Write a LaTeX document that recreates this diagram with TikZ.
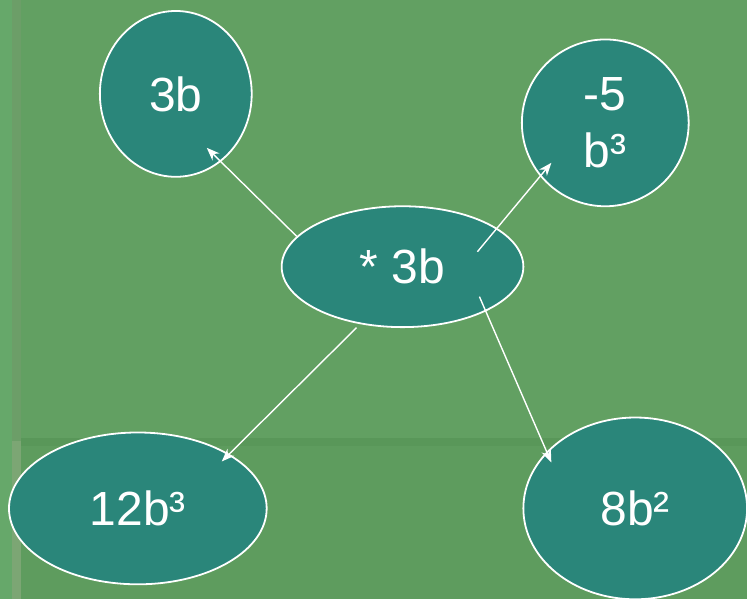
\documentclass[tikz,border=0pt]{standalone}
\usepackage{fontspec}
\setmainfont{Liberation Sans}
\usetikzlibrary{shapes.geometric,arrows.meta,calc}

\definecolor{bggreen}{RGB}{98,160,98}
\definecolor{bglow}{RGB}{94,156,94}
\definecolor{bglight}{RGB}{102,168,106}
\definecolor{bgband}{RGB}{108,158,104}
\definecolor{bgbandlow}{RGB}{124,166,116}
\definecolor{bgline}{RGB}{89,151,89}
\definecolor{termfill}{RGB}{42,134,122}

\begin{document}
\begin{tikzpicture}[  x = 1pt,  y = -1pt,  > = {Stealth[length=13pt,width=10pt]},
  term/.style = {ellipse, draw=white, line width=1.8pt, fill=termfill, text=white,
    inner sep=0pt, align=center, font=\fontsize{48}{57}\selectfont},
  link/.style = {->, draw=white, line width=1.4pt}]
  % Background
  \fill[bggreen] (0,0) rectangle (748,600);
  \fill[bglow] (21,447) rectangle (748,600);
  \fill[bglight] (0,0) rectangle (12,600);
  \fill[bgband] (12,0) rectangle (21,442);
  \fill[bgbandlow] (12,442) rectangle (21,600);
  \fill[bgline] (21,439) rectangle (748,447);

  % Define nodes
  \node[term, minimum width=152pt, minimum height=166pt] (fac) at (176,94) {3b};
  \node[term, minimum width=167pt, minimum height=167pt] (neg) at (606,123) {-5\\b³};
  \node[term, minimum width=242pt, minimum height=121pt] (mul) at (403,267) {* 3b};
  \node[term, minimum width=258pt, minimum height=152pt] (cub) at (138,509) {12b³};
  \node[term, minimum width=224pt, minimum height=182pt] (sqr) at (636,509) {8b²};

  % Arrow ends
  \coordinate (facin) at ($(fac)+(31,54)$);
  \coordinate (mulne) at ($(mul)+(75,-15)$);
  \coordinate (negin) at ($(neg)+(-54,40)$);
  \coordinate (mulsw) at ($(mul)+(-46,61)$);
  \coordinate (cubin) at ($(cub)+(84,-47)$);
  \coordinate (mulse) at ($(mul)+(77,30)$);
  \coordinate (sqrin) at ($(sqr)+(-84,-46)$);

  % Draw arrows
  \draw[link] (mul.164) -- (facin);
  \draw[link] (mulne) -- (negin);
  \draw[link] (mulsw) -- (cubin);
  \draw[link] (mulse) -- (sqrin);
\end{tikzpicture}
\end{document}
